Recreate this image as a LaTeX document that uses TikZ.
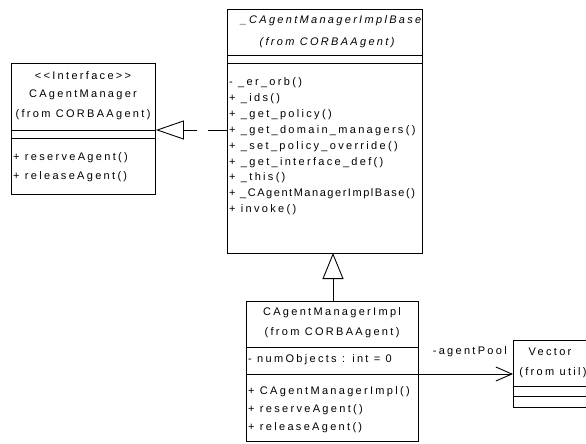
\documentclass[tikz,border=0pt]{standalone}
\usepackage{fontspec}
\setmainfont{Liberation Sans}[LetterSpace=21]
\usetikzlibrary{arrows.meta}
\tikzset{
  umlbox/.style={draw, line width=0.9pt, anchor=north west, inner sep=0pt},
  sepline/.style={line width=0.9pt},
  txt/.style={inner sep=0pt, font=\fontsize{11}{13}\selectfont},
  ltxt/.style={txt, anchor=west},
  itxt/.style={txt, font=\fontsize{11}{13}\selectfont\itshape},
  realize/.style={line width=0.9pt, dash pattern=on 19pt off 11pt, -{Triangle[open, length=28pt, width=19pt, line width=0.9pt]}},
  inherit/.style={line width=0.9pt, -{Triangle[open, length=26pt, width=21pt, line width=0.9pt]}},
  assoc/.style={line width=0.9pt, -{Straight Barb[length=16pt, width=14pt, line width=0.9pt]}}
}
\begin{document}
\begin{tikzpicture}[x=1pt,y=-1pt]
\useasboundingbox (0,0) rectangle (586,444);
% Box 1: CAgentManager
\node[umlbox, minimum width=144pt, minimum height=131pt] (cam) at (11,63) {};
\draw[sepline] (11,130) -- (155,130);
\draw[sepline] (11,138) -- (155,138);
\node[txt] (camst) at (83,76) {{<}{<}Interface{>}{>}};
\node[txt] (camn) at (83,95) {CAgentManager};
\node[txt] (camf) at (83,115) {(from CORBAAgent)};
\node[ltxt] (camm1) at (13,158) {+ reserveAgent()};
\node[ltxt] (camm2) at (13,177) {+ releaseAgent()};
% Box 2: _CAgentManagerImplBase
\node[umlbox, minimum width=195pt, minimum height=244pt] (base) at (227,9) {};
\draw[sepline] (227,55) -- (422,55);
\draw[sepline] (227,63) -- (422,63);
\node[itxt] (basen) at (331,21) {\_CAgentManagerImplBase};
\node[itxt] (basef) at (327,43) {(from CORBAAgent)};
\node[ltxt] (bm1) at (229,83) {- \_er\_orb()};
\node[ltxt] (bm2) at (229,99) {+ \_ids()};
\node[ltxt] (bm3) at (229,115) {+ \_get\_policy()};
\node[ltxt] (bm4) at (229,131) {+ \_get\_domain\_managers()};
\node[ltxt] (bm5) at (229,147) {+ \_set\_policy\_override()};
\node[ltxt] (bm6) at (229,163) {+ \_get\_interface\_def()};
\node[ltxt] (bm7) at (229,178) {+ \_this()};
\node[ltxt] (bm8) at (229,194) {\addfontfeature{LetterSpace=14}+ \_CAgentManagerImplBase()};
\node[ltxt] (bm9) at (229,210) {+ invoke()};
% Box 3: CAgentManagerImpl
\node[umlbox, minimum width=172pt, minimum height=140pt] (impl) at (246,301) {};
\draw[sepline] (246,347) -- (418,347);
\draw[sepline] (246,374) -- (418,374);
\node[txt] (impln) at (332,313) {CAgentManagerImpl};
\node[txt] (implf) at (332,333) {(from CORBAAgent)};
\node[ltxt] (impla) at (248,360) {- numObjects : int = 0};
\node[ltxt] (implm1) at (248,392) {+ CAgentManagerImpl()};
\node[ltxt] (implm2) at (248,410) {+ reserveAgent()};
\node[ltxt] (implm3) at (248,428) {+ releaseAgent()};
% Box 4: Vector
\node[umlbox, minimum width=90pt, minimum height=67pt] (vec) at (513,340) {};
\draw[sepline] (513,386) -- (603,386);
\draw[sepline] (513,396) -- (603,396);
\node[txt] (vecn) at (550,352) {Vector};
\node[txt] (vecf) at (553,373) {(from util)};
% Connectors
\coordinate (rstart) at (base.west |- 0,130);
\coordinate (rend) at (cam.east |- 0,130);
\draw[realize] (rstart) -- (rend);
\coordinate (istart) at (333,301);
\coordinate (iend) at (333,253);
\draw[inherit] (istart) -- (iend);
\coordinate (astart) at (impl.east |- 0,374);
\coordinate (aend) at (vec.west |- 0,374);
\draw[assoc] (astart) -- (aend);
\node[txt, anchor=east] (role) at (507,352) {-agentPool};
\end{tikzpicture}
\end{document}
